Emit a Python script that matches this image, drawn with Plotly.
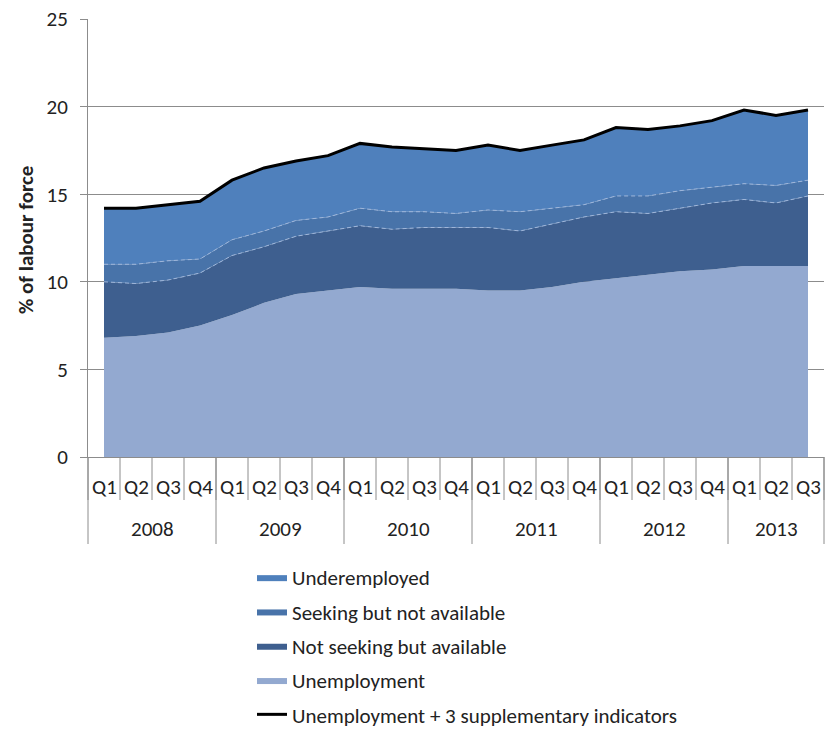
import plotly.graph_objects as go
import numpy as np

# Quarterly labour-force measures, % of labour force
years = ["2008", "2009", "2010", "2011", "2012", "2013"]
quarters = ["Q1", "Q2", "Q3", "Q4"] * 5 + ["Q1", "Q2", "Q3"]

unemployment = [6.8, 6.9, 7.1, 7.5, 8.1, 8.8, 9.3, 9.5, 9.7, 9.6, 9.6, 9.6,
                9.5, 9.5, 9.7, 10.0, 10.2, 10.4, 10.6, 10.7, 10.9, 10.9, 10.9]
not_seeking_available = [3.2, 3.0, 3.0, 3.0, 3.4, 3.2, 3.3, 3.4, 3.5, 3.4, 3.5, 3.5,
                         3.6, 3.4, 3.6, 3.7, 3.8, 3.5, 3.6, 3.8, 3.8, 3.6, 4.0]
seeking_not_available = [1.0, 1.1, 1.1, 0.8, 0.9, 0.9, 0.9, 0.8, 1.0, 1.0, 0.9, 0.8,
                         1.0, 1.1, 0.9, 0.7, 0.9, 1.0, 1.0, 0.9, 0.9, 1.0, 0.9]
underemployed = [3.2, 3.2, 3.2, 3.3, 3.4, 3.6, 3.4, 3.5, 3.7, 3.7, 3.6, 3.6,
                 3.7, 3.5, 3.6, 3.7, 3.9, 3.8, 3.7, 3.8, 4.2, 4.0, 4.0]

n = len(quarters)
x = list(range(n))
year_sizes = [4, 4, 4, 4, 4, 3]

FONT = "Carlito, Calibri, Lato, sans-serif"
TXT = "#222222"
GRID = "#8c8c8c"

layers = [
    ("Unemployment", unemployment, "#93a9d0", 4),
    ("Not seeking but available", not_seeking_available, "#3e5f8f", 3),
    ("Seeking but not available", seeking_not_available, "#4873a9", 2),
    ("Underemployed", underemployed, "#4f80bc", 1),
]

fig = go.Figure()
for name, vals, color, rank in layers:
    fig.add_trace(go.Scatter(
        x=x, y=vals, name=name, stackgroup="one", mode="lines",
        line=dict(width=0, color=color), fillcolor=color,
        legendgroup=name, legendrank=rank, hoverinfo="skip",
    ))

# light dashed edges along the tops of the two middle bands
c1 = np.array(unemployment) + np.array(not_seeking_available)
c2 = c1 + np.array(seeking_not_available)
for edge in (c1, c2):
    fig.add_trace(go.Scatter(
        x=x, y=edge, mode="lines", showlegend=False, hoverinfo="skip",
        line=dict(color="#9fb6da", width=1, dash="4px,3px"),
    ))

total = c2 + np.array(underemployed)
fig.add_trace(go.Scatter(
    x=x, y=total, mode="lines", name="Unemployment + 3 supplementary indicators",
    line=dict(color="black", width=3), legendgroup="total", legendrank=5,
))

# plot area geometry in pixels
L, R, T, B = 88, 824, 19, 457
H = B - T
W = R - L
FIG_W, FIG_H = 827, 729


def py(p):
    return (B - p) / H


shapes = []
annotations = []
# quarter dividers
for b in range(n + 1):
    px = b / n
    shapes.append(dict(type="line", xref="paper", yref="paper", x0=px, x1=px,
                       y0=0, y1=py(500), line=dict(color=GRID, width=1)))
# year dividers
edges = np.concatenate([[0], np.cumsum(year_sizes)])
for e in edges:
    px = e / n
    shapes.append(dict(type="line", xref="paper", yref="paper", x0=px, x1=px,
                       y0=0, y1=py(544), line=dict(color=GRID, width=1)))

for i, q in enumerate(quarters):
    annotations.append(dict(x=i, y=py(487), xref="x", yref="paper", text=q,
                            showarrow=False, xanchor="center", yanchor="middle",
                            font=dict(family=FONT, size=21, color=TXT)))
for k, yr in enumerate(years):
    mid = (edges[k] + edges[k + 1] - 1) / 2
    annotations.append(dict(x=mid, y=py(529), xref="x", yref="paper", text=yr,
                            showarrow=False, xanchor="center", yanchor="middle",
                            font=dict(family=FONT, size=21, color=TXT)))

annotations.append(dict(x=(26 - L) / W, y=py(240), xref="paper", yref="paper",
                        text="<b>% of labour force</b>", textangle=-90,
                        showarrow=False, xanchor="center", yanchor="middle",
                        font=dict(family=FONT, size=21, color=TXT)))

fig.update_layout(
    width=FIG_W, height=FIG_H,
    margin=dict(l=L, r=FIG_W - R, t=T, b=FIG_H - B, autoexpand=False),
    paper_bgcolor="white", plot_bgcolor="white",
    font=dict(family=FONT, size=21, color=TXT),
    showlegend=True,
    legend=dict(x=252 / FIG_W, y=1 - 557 / FIG_H, xref="container", yref="container",
                xanchor="left", yanchor="top",
                bgcolor="rgba(0,0,0,0)", tracegroupgap=4,
                font=dict(family=FONT, size=21, color=TXT)),
    shapes=shapes, annotations=annotations,
    xaxis=dict(range=[-0.5, n - 0.5], showticklabels=False, showgrid=False,
               zeroline=False, showline=True, linecolor=GRID, ticks=""),
    yaxis=dict(range=[0, 25], dtick=5, showgrid=True, gridcolor=GRID,
               zeroline=False, showline=True, linecolor=GRID, ticks="outside",
               ticklen=7, tickcolor=GRID, ticklabelstandoff=8,
               tickfont=dict(family=FONT, size=21, color=TXT)),
)

fig.write_html("out.html")
